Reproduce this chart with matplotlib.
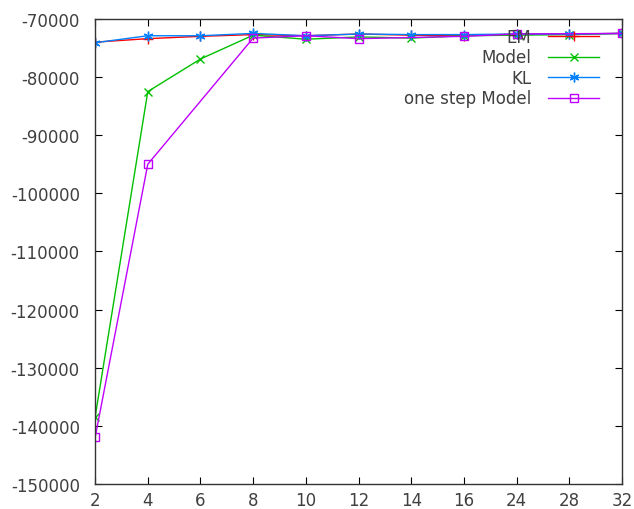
import matplotlib
matplotlib.use('Agg')
import matplotlib.pyplot as plt

plt.rcParams['axes.unicode_minus'] = False

# x values are plotted as equally spaced categories
x_labels = ['2', '4', '6', '8', '10', '12', '14', '16', '24', '28', '32']

em_x = ['2', '4', '6', '8', '10', '12', '14', '16', '24', '28', '32']
em_y = [-74000, -73400, -73000, -72700, -72900, -72600, -72800, -72900, -72600, -72600, -72500]

model_x = ['2', '4', '6', '8', '10', '12', '14', '16', '24', '28', '32']
model_y = [-138500, -82500, -76900, -72800, -73500, -73100, -73300, -72900, -72800, -72700, -72500]

kl_x = ['2', '4', '6', '8', '10', '12', '14', '16', '24', '28', '32']
kl_y = [-74100, -72900, -72900, -72500, -72900, -72600, -72700, -72700, -72600, -72600, -72500]

osm_x = ['2', '4', '8', '10', '12', '16', '24', '32']
osm_y = [-142000, -95000, -73300, -72900, -73400, -73000, -72600, -72500]

pos = {lab: i for i, lab in enumerate(x_labels)}

fig = plt.figure(figsize=(6.34, 5.10), dpi=100)
ax = fig.add_axes([0.150, 0.049, 0.831, 0.912])

ax.plot([pos[v] for v in em_x], em_y, color='#ff0000', lw=1, marker='+', ms=7, mew=1, label='EM')
ax.plot([pos[v] for v in model_x], model_y, color='#00c000', lw=1, marker='x', ms=6, mew=1, label='Model')
ax.plot([pos[v] for v in kl_x], kl_y, color='#0080ff', lw=1, marker=(6, 2, 0), ms=7, mew=1, label='KL')
ax.plot([pos[v] for v in osm_x], osm_y, color='#c000ff', lw=1, marker='s', ms=6, mew=1,
        mfc='none', label='one step Model')

ax.set_xlim(0, len(x_labels) - 1)
ax.set_ylim(-150000, -70000)
ax.set_xticks(range(len(x_labels)))
ax.set_xticklabels(x_labels)
ax.set_yticks(range(-150000, -69999, 10000))

ax.tick_params(direction='in', top=True, right=True, length=5, labelsize=12,
               labelcolor='#404040')
ax.tick_params(axis='x', pad=5)
ax.tick_params(axis='y', pad=11)
for s in ax.spines.values():
    s.set_color('#333333')
    s.set_linewidth(1)

leg = ax.legend(loc='upper right', frameon=False, markerfirst=False, fontsize=12,
                handlelength=3.1, handletextpad=1.0, labelspacing=0.15,
                borderaxespad=0.0, bbox_to_anchor=(0.97, 0.995))
for t in leg.get_texts():
    t.set_ha('right')
    t.set_color('#404040')
leg._legend_box.align = 'right'

fig.savefig('out.png', dpi=100)
